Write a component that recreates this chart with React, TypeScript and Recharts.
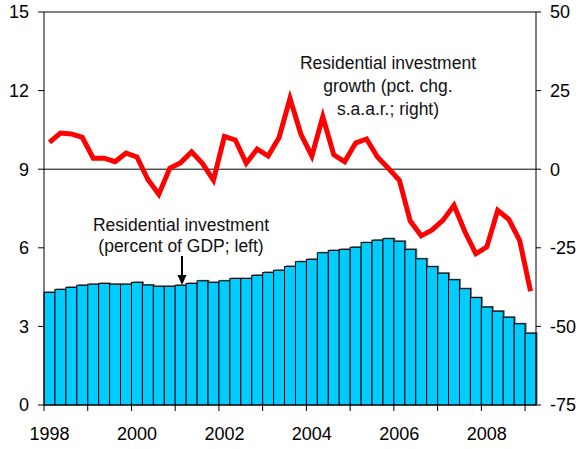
import React from 'react'
import {
  ComposedChart,
  Bar,
  Line,
  XAxis,
  YAxis,
  ReferenceLine,
  Customized,
} from 'recharts'

// quarterly, 1998Q1 - 2009Q1
const quarters = [
  '1998Q1', '1998Q2', '1998Q3', '1998Q4',
  '1999Q1', '1999Q2', '1999Q3', '1999Q4',
  '2000Q1', '2000Q2', '2000Q3', '2000Q4',
  '2001Q1', '2001Q2', '2001Q3', '2001Q4',
  '2002Q1', '2002Q2', '2002Q3', '2002Q4',
  '2003Q1', '2003Q2', '2003Q3', '2003Q4',
  '2004Q1', '2004Q2', '2004Q3', '2004Q4',
  '2005Q1', '2005Q2', '2005Q3', '2005Q4',
  '2006Q1', '2006Q2', '2006Q3', '2006Q4',
  '2007Q1', '2007Q2', '2007Q3', '2007Q4',
  '2008Q1', '2008Q2', '2008Q3', '2008Q4',
  '2009Q1',
]

// residential investment, percent of GDP (left)
const investShare = [
  4.3, 4.41, 4.49, 4.57, 4.61, 4.64, 4.61, 4.61, 4.68, 4.58,
  4.53, 4.53, 4.57, 4.64, 4.74, 4.68, 4.74, 4.83, 4.83, 4.95,
  5.06, 5.14, 5.29, 5.47, 5.56, 5.81, 5.9, 5.94, 6.02, 6.2,
  6.29, 6.35, 6.25, 5.94, 5.58, 5.28, 5.03, 4.78, 4.44, 4.1,
  3.74, 3.58, 3.35, 3.1, 2.74,
]

// residential investment growth, pct. chg. s.a.a.r. (right)
const investGrowth = [
  8.5, 11.5, 11.2, 10.1, 3.5, 3.5, 2.4, 5.1, 3.9, -3.3,
  -8.0, 0.3, 2.1, 5.5, 1.8, -3.5, 10.4, 9.3, 1.9, 6.4,
  4.2, 10.1, 22.5, 11.1, 4.2, 16.7, 4.6, 2.4, 8.3, 9.6,
  3.9, 0.3, -3.5, -16.5, -21.2, -19.3, -16.2, -11.5, -19.9, -26.9,
  -24.7, -13.1, -15.9, -22.6, -38.8,
]

const leftTicks = [0, 3, 6, 9, 12, 15]
const rightTicks = [-75, -50, -25, 0, 25, 50]

const data = quarters.map((q, i) => ({
  q,
  share: investShare[i],
  growth: investGrowth[i],
}))

const FONT = '"Liberation Sans", Arial, sans-serif'

// tick marks at year boundaries, labels under Q1 of even years
const YearTick = (props: any) => {
  const { x, y, payload } = props
  const i = payload.index
  const half = payload.offset ?? 5.47
  if (i % 4 !== 0) return <g />
  return (
    <g>
      <line x1={x - half} x2={x - half} y1={y} y2={y + 6} stroke="#000" />
      {i % 8 === 0 && (
        <text
          x={x}
          y={y + 35}
          textAnchor="middle"
          fontSize={18}
          fontFamily={FONT}
          fill="#000"
        >
          {payload.value.slice(0, 4)}
        </text>
      )}
    </g>
  )
}

const ShadowBar = (props: any) => {
  const { x, y, width, height } = props
  return (
    <g>
      <rect x={x + 1.5} y={y - 1} width={width} height={height} fill="#777" />
      <rect
        x={x}
        y={y}
        width={width}
        height={height}
        fill="#00CCFF"
        stroke="#000"
        strokeWidth={1}
      />
    </g>
  )
}

const Notes = () => (
  <g fontFamily={FONT} fontSize={17.5} fill="#111" textAnchor="middle">
    <text x={388} y={69}>Residential investment</text>
    <text x={388} y={92}>growth (pct. chg.</text>
    <text x={388} y={115}>s.a.a.r.; right)</text>
    <text x={181} y={231}>Residential investment</text>
    <text x={181} y={252}>(percent of GDP; left)</text>
    <line x1={182} x2={182} y1={256} y2={276} stroke="#000" strokeWidth={2} />
    <path d="M177.5,275 L186.5,275 L182,285 Z" fill="#000" />
  </g>
)

export default function App() {
  return (
    <div style={{ position: 'absolute', left: 0, top: 0, background: '#fff' }}>
      <ComposedChart
        width={579}
        height={449}
        data={data}
        margin={{ top: 12, right: 0, left: 0, bottom: 0 }}
        barCategoryGap={0}
        barGap={0}
      >
        <XAxis
          dataKey="q"
          interval={0}
          height={44}
          tickLine={false}
          tickSize={0}
          tickMargin={0}
          axisLine={{ stroke: '#000' }}
          tick={<YearTick />}
        />
        <YAxis
          yAxisId="left"
          domain={[0, 15]}
          ticks={leftTicks}
          width={44}
          tickSize={6}
          tickMargin={9}
          axisLine={{ stroke: '#000' }}
          tickLine={{ stroke: '#000' }}
          tick={{ fill: '#000', fontSize: 18, fontFamily: FONT }}
        />
        <YAxis
          yAxisId="right"
          orientation="right"
          domain={[-75, 50]}
          ticks={rightTicks}
          width={43}
          tickSize={5}
          tickMargin={9}
          axisLine={{ stroke: '#000' }}
          tickLine={{ stroke: '#000' }}
          tick={{ fill: '#000', fontSize: 18, fontFamily: FONT, textAnchor: 'start' }}
        />
        <ReferenceLine yAxisId="left" y={15} stroke="#000" />
        <Bar
          yAxisId="left"
          dataKey="share"
          shape={<ShadowBar />}
          isAnimationActive={false}
        />
        <ReferenceLine yAxisId="right" y={0} stroke="#000" />
        <Line
          yAxisId="right"
          dataKey="growth"
          stroke="#FF0000"
          strokeWidth={5}
          dot={false}
          activeDot={false}
          isAnimationActive={false}
        />
        <Customized component={Notes} />
      </ComposedChart>
    </div>
  )
}
